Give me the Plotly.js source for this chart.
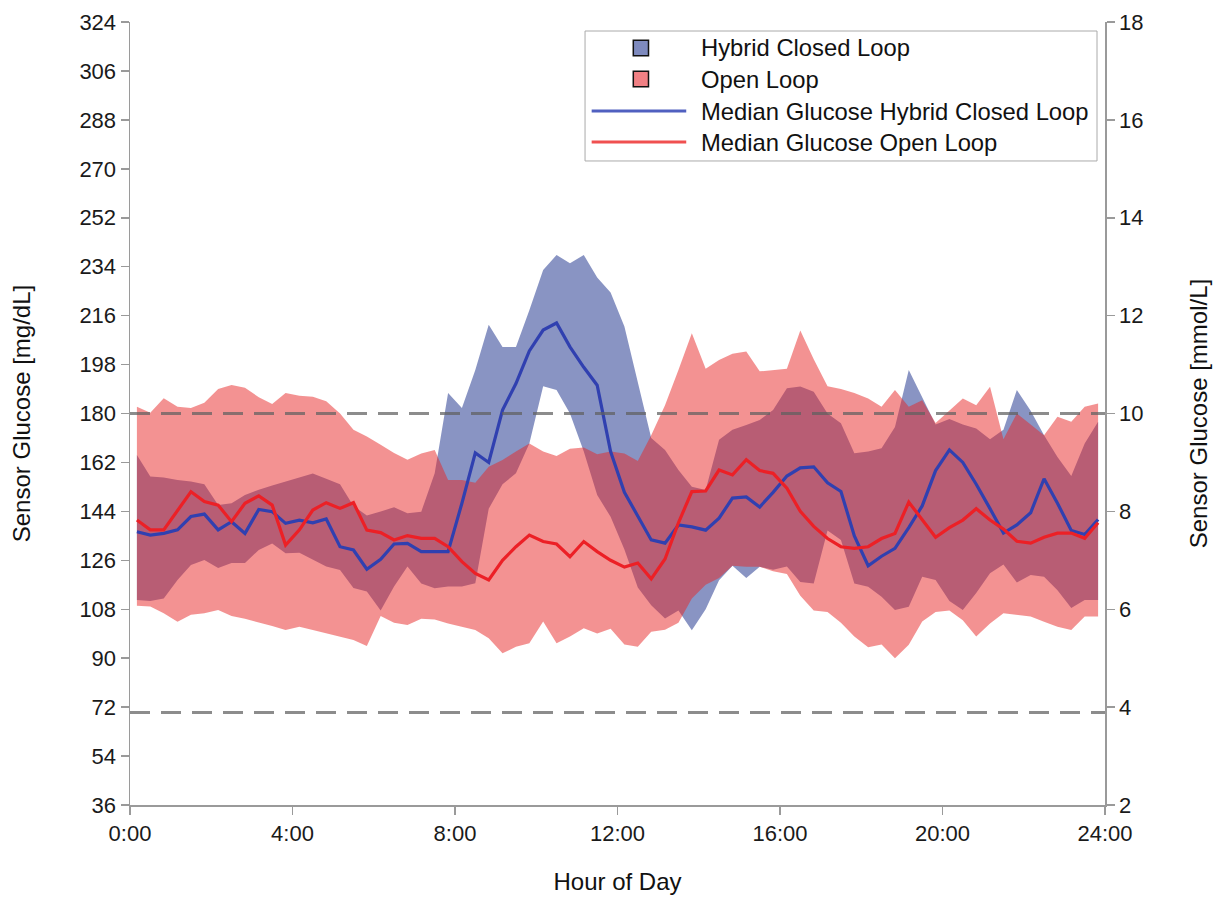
<!DOCTYPE html>
<html>
<head>
<meta charset="utf-8">
<script src="https://cdn.plot.ly/plotly-3.0.1.min.js"></script>
<style>html,body{margin:0;padding:0;background:#fff;}#chart{width:1222px;height:898px;}</style>
</head>
<body>
<div id="chart"></div>
<script>
// 20-minute bins (hour of day, bin centres)
const hours = [0.17,0.5,0.83,1.17,1.5,1.83,2.17,2.5,2.83,3.17,3.5,3.83,
  4.17,4.5,4.83,5.17,5.5,5.83,6.17,6.5,6.83,7.17,7.5,7.83,
  8.17,8.5,8.83,9.17,9.5,9.83,10.17,10.5,10.83,11.17,11.5,11.83,
  12.17,12.5,12.83,13.17,13.5,13.83,14.17,14.5,14.83,15.17,15.5,15.83,
  16.17,16.5,16.83,17.17,17.5,17.83,18.17,18.5,18.83,19.17,19.5,19.83,
  20.17,20.5,20.83,21.17,21.5,21.83,22.17,22.5,22.83,23.17,23.5,23.83];

// Median glucose, hybrid closed loop (mg/dL)
const hclMedian = [136.5,135.3,135.9,137.2,142.1,143.0,137.2,140.2,135.9,144.7,143.9,139.6,
  140.8,139.8,141.2,131.0,129.8,122.7,126.4,132.0,132.2,129.2,129.2,129.2,
  147.0,165.5,162.0,181.3,191.0,203.0,210.7,213.3,204.5,197.0,190.4,166.0,
  151.0,142.0,133.5,132.3,139.0,138.3,137.1,141.5,148.9,149.3,145.6,151.0,
  157.0,160.0,160.4,154.5,151.3,135.0,124.0,127.5,130.4,138.0,146.0,159.0,
  166.6,162.0,154.0,145.0,136.0,139.0,143.5,156.0,147.0,137.0,135.5,141.0];

// Median glucose, open loop (mg/dL)
const olMedian = [140.8,137.2,137.2,144.3,151.2,147.6,146.3,140.2,147.0,149.7,146.3,131.6,
  137.2,144.5,147.2,145.1,147.2,137.1,136.2,133.5,135.1,134.1,134.1,131.0,
  125.5,121.2,118.8,126.0,131.0,135.3,132.9,132.0,127.3,132.9,129.2,126.0,
  123.5,125.0,119.2,126.5,139.8,151.3,151.5,159.2,157.4,163.0,159.0,158.0,
  152.5,144.0,138.5,134.0,131.0,130.4,131.0,134.0,135.9,147.4,141.0,134.5,
  138.0,140.8,145.0,140.8,137.5,133.0,132.3,134.5,136.0,136.0,134.1,139.8];

// Hybrid closed loop band, upper / lower (mg/dL)
const hclUpper = [164.7,156.8,156.5,155.5,155.0,154.0,146.3,147.0,150.0,152.0,153.5,154.9,
  156.5,157.9,156.0,154.0,146.0,142.5,144.0,145.5,143.3,143.9,158.0,187.5,
  182.0,196.0,212.6,204.5,204.5,218.0,232.8,238.3,235.3,238.3,230.0,224.5,
  212.0,191.0,171.0,166.6,159.2,153.1,151.9,170.3,174.0,175.8,177.6,181.3,
  189.3,189.9,188.0,180.0,176.4,165.4,166.0,167.2,175.0,196.0,186.0,176.0,
  178.0,176.0,174.5,170.5,174.0,188.6,181.0,172.0,164.0,157.0,169.0,177.0];
const hclLower = [111.4,111.0,112.0,118.8,124.3,126.1,123.2,125.0,125.0,129.8,132.2,128.6,
  128.8,126.1,123.7,122.4,115.8,114.5,107.5,116.4,123.7,117.5,115.7,116.4,
  116.4,117.6,145.0,154.0,158.0,169.0,190.0,188.6,180.0,166.0,150.0,142.0,
  130.0,116.0,109.5,104.6,107.5,100.3,108.0,118.7,124.0,119.5,123.6,122.5,
  123.7,118.0,117.5,137.0,133.5,117.5,116.3,112.6,107.7,108.9,120.0,118.8,
  111.0,107.7,114.0,121.2,124.5,117.8,120.6,120.0,115.0,108.5,111.4,111.4];

// Open loop band, upper / lower (mg/dL)
const olUpper = [182.5,180.3,185.6,182.5,182.0,184.0,189.0,190.5,189.5,186.0,183.5,187.5,
  186.5,186.2,184.5,180.0,174.0,171.5,168.5,165.5,163.0,165.3,166.6,155.5,
  155.5,154.5,160.4,162.9,166.0,169.0,166.0,164.4,167.0,167.5,165.0,166.0,
  165.3,162.5,172.0,183.0,196.0,209.5,196.5,199.7,202.0,202.8,195.5,196.0,
  196.5,210.5,200.0,190.0,189.0,187.5,185.5,182.5,188.6,182.5,184.9,176.5,
  181.0,185.5,183.0,189.8,170.5,180.0,176.0,172.0,178.8,177.0,182.5,183.7];
const olLower = [109.3,109.0,106.5,103.4,106.0,106.5,107.7,105.5,104.5,103.0,101.8,100.4,
  101.6,100.4,99.1,97.9,96.7,94.5,105.5,103.0,102.2,104.5,104.2,102.8,
  101.6,100.4,97.3,91.8,94.2,95.5,103.5,95.5,98.0,101.0,99.1,100.8,
  95.0,94.2,99.7,100.5,103.0,112.0,117.0,119.5,124.0,123.6,123.6,122.0,
  121.0,113.0,107.5,107.0,103.0,98.0,94.0,95.0,90.0,94.9,103.5,107.0,
  107.5,104.0,98.0,102.8,106.5,106.0,105.3,103.4,101.6,100.4,105.3,105.3];

// Axes
const hourTicks = [0,4,8,12,16,20,24];
const hourLabels = ['0:00','4:00','8:00','12:00','16:00','20:00','24:00'];
const mgTicks = [36,54,72,90,108,126,144,162,180,198,216,234,252,270,288,306,324];
const mmolTicks = [2,4,6,8,10,12,14,16,18];
const thresholds = [180,70];

// Legend
const legendLabels = ['Hybrid Closed Loop','Open Loop','Median Glucose Hybrid Closed Loop','Median Glucose Open Loop'];

const FONT = 'Liberation Sans, Arial, sans-serif';
const HCL_FILL = 'rgba(40,60,145,0.55)';
const OL_FILL = 'rgba(232,38,38,0.5)';
const HCL_LINE = '#3040b0';
const OL_LINE = '#ec2026';

const traces = [
  {x: hours, y: hclLower, mode:'lines', line:{width:0, color:HCL_FILL}, hoverinfo:'skip', showlegend:false},
  {x: hours, y: hclUpper, mode:'lines', line:{width:0, color:HCL_FILL}, fill:'tonexty', fillcolor:HCL_FILL, name:legendLabels[0], showlegend:false},
  {x: hours, y: olLower, mode:'lines', line:{width:0, color:OL_FILL}, hoverinfo:'skip', showlegend:false},
  {x: hours, y: olUpper, mode:'lines', line:{width:0, color:OL_FILL}, fill:'tonexty', fillcolor:OL_FILL, name:legendLabels[1], showlegend:false},
  {x: hours, y: hclMedian, mode:'lines', line:{width:3.2, color:HCL_LINE}, name:legendLabels[2], showlegend:false},
  {x: hours, y: olMedian, mode:'lines', line:{width:3.2, color:OL_LINE}, name:legendLabels[3], showlegend:false},
  {x: [hours[0]], y: [null], yaxis:'y2', mode:'lines', hoverinfo:'skip', showlegend:false}
];

const axisStyle = {
  showline:true, linecolor:'#9a9a9a', linewidth:1.5,
  ticks:'outside', ticklen:8, tickwidth:1.5, tickcolor:'#9a9a9a',
  showgrid:false, zeroline:false,
  tickfont:{family:FONT, size:22, color:'#1a1a1a'}
};

const shapes = [];
thresholds.forEach(v => shapes.push({
  type:'line', xref:'x', yref:'y', x0:0, x1:24, y0:v, y1:v, layer:'above',
  line:{color:'rgba(95,95,95,0.72)', width:3, dash:'20px,11px'}
}));

// legend box (paper coords)
const L = {x0:0.4667, x1:0.9918, y0:0.8225, y1:0.9885};
shapes.push({type:'rect', xref:'paper', yref:'paper', x0:L.x0, x1:L.x1, y0:L.y0, y1:L.y1,
  line:{color:'#aaaaaa', width:1}, fillcolor:'#ffffff', layer:'above'});
const rowY = [0.9668, 0.9272, 0.8863, 0.8467];
const symX = 0.524; // centre of symbol column
const sqW = 0.0078, sqH = 0.0099;
shapes.push({type:'rect', xref:'paper', yref:'paper', x0:symX-sqW, x1:symX+sqW, y0:rowY[0]-sqH, y1:rowY[0]+sqH,
  line:{color:'#111', width:1.5}, fillcolor:'rgb(126,138,190)', layer:'above'});
shapes.push({type:'rect', xref:'paper', yref:'paper', x0:symX-sqW, x1:symX+sqW, y0:rowY[1]-sqH, y1:rowY[1]+sqH,
  line:{color:'#111', width:1.5}, fillcolor:'rgb(240,128,132)', layer:'above'});
shapes.push({type:'line', xref:'paper', yref:'paper', x0:0.4735, x1:0.5705, y0:rowY[2], y1:rowY[2],
  line:{color:'#5060c0', width:3}, layer:'above'});
shapes.push({type:'line', xref:'paper', yref:'paper', x0:0.4735, x1:0.5705, y0:rowY[3], y1:rowY[3],
  line:{color:'#f05050', width:3}, layer:'above'});

const annotations = legendLabels.map((t,i) => ({
  xref:'paper', yref:'paper', x:0.584, y:rowY[i], xanchor:'left', yanchor:'middle',
  text:t, showarrow:false, font:{family:FONT, size:23.8, color:'#111'}
}));

const layout = {
  width:1222, height:898,
  margin:{l:130, r:117, t:22, b:93, pad:0},
  paper_bgcolor:'#ffffff', plot_bgcolor:'#ffffff',
  showlegend:false,
  font:{family:FONT, color:'#222'},
  xaxis: Object.assign({}, axisStyle, {
    range:[0,24], tickvals:hourTicks, ticktext:hourLabels,
    title:{text:'Hour of Day', font:{family:FONT, size:24, color:'#111'}, standoff:28}
  }),
  yaxis: Object.assign({}, axisStyle, {
    range:[36,324], tickvals:mgTicks,
    title:{text:'Sensor Glucose [mg/dL]', font:{family:FONT, size:24, color:'#111'}, standoff:42}
  }),
  yaxis2: Object.assign({}, axisStyle, {
    overlaying:'y', side:'right', range:[2,18], tickvals:mmolTicks,
    title:{text:'Sensor Glucose [mmol/L]', font:{family:FONT, size:24, color:'#111'}, standoff:48}
  }),
  shapes: shapes,
  annotations: annotations
};

Plotly.newPlot('chart', traces, layout, {staticPlot:true, displayModeBar:false});
</script>
</body>
</html>
